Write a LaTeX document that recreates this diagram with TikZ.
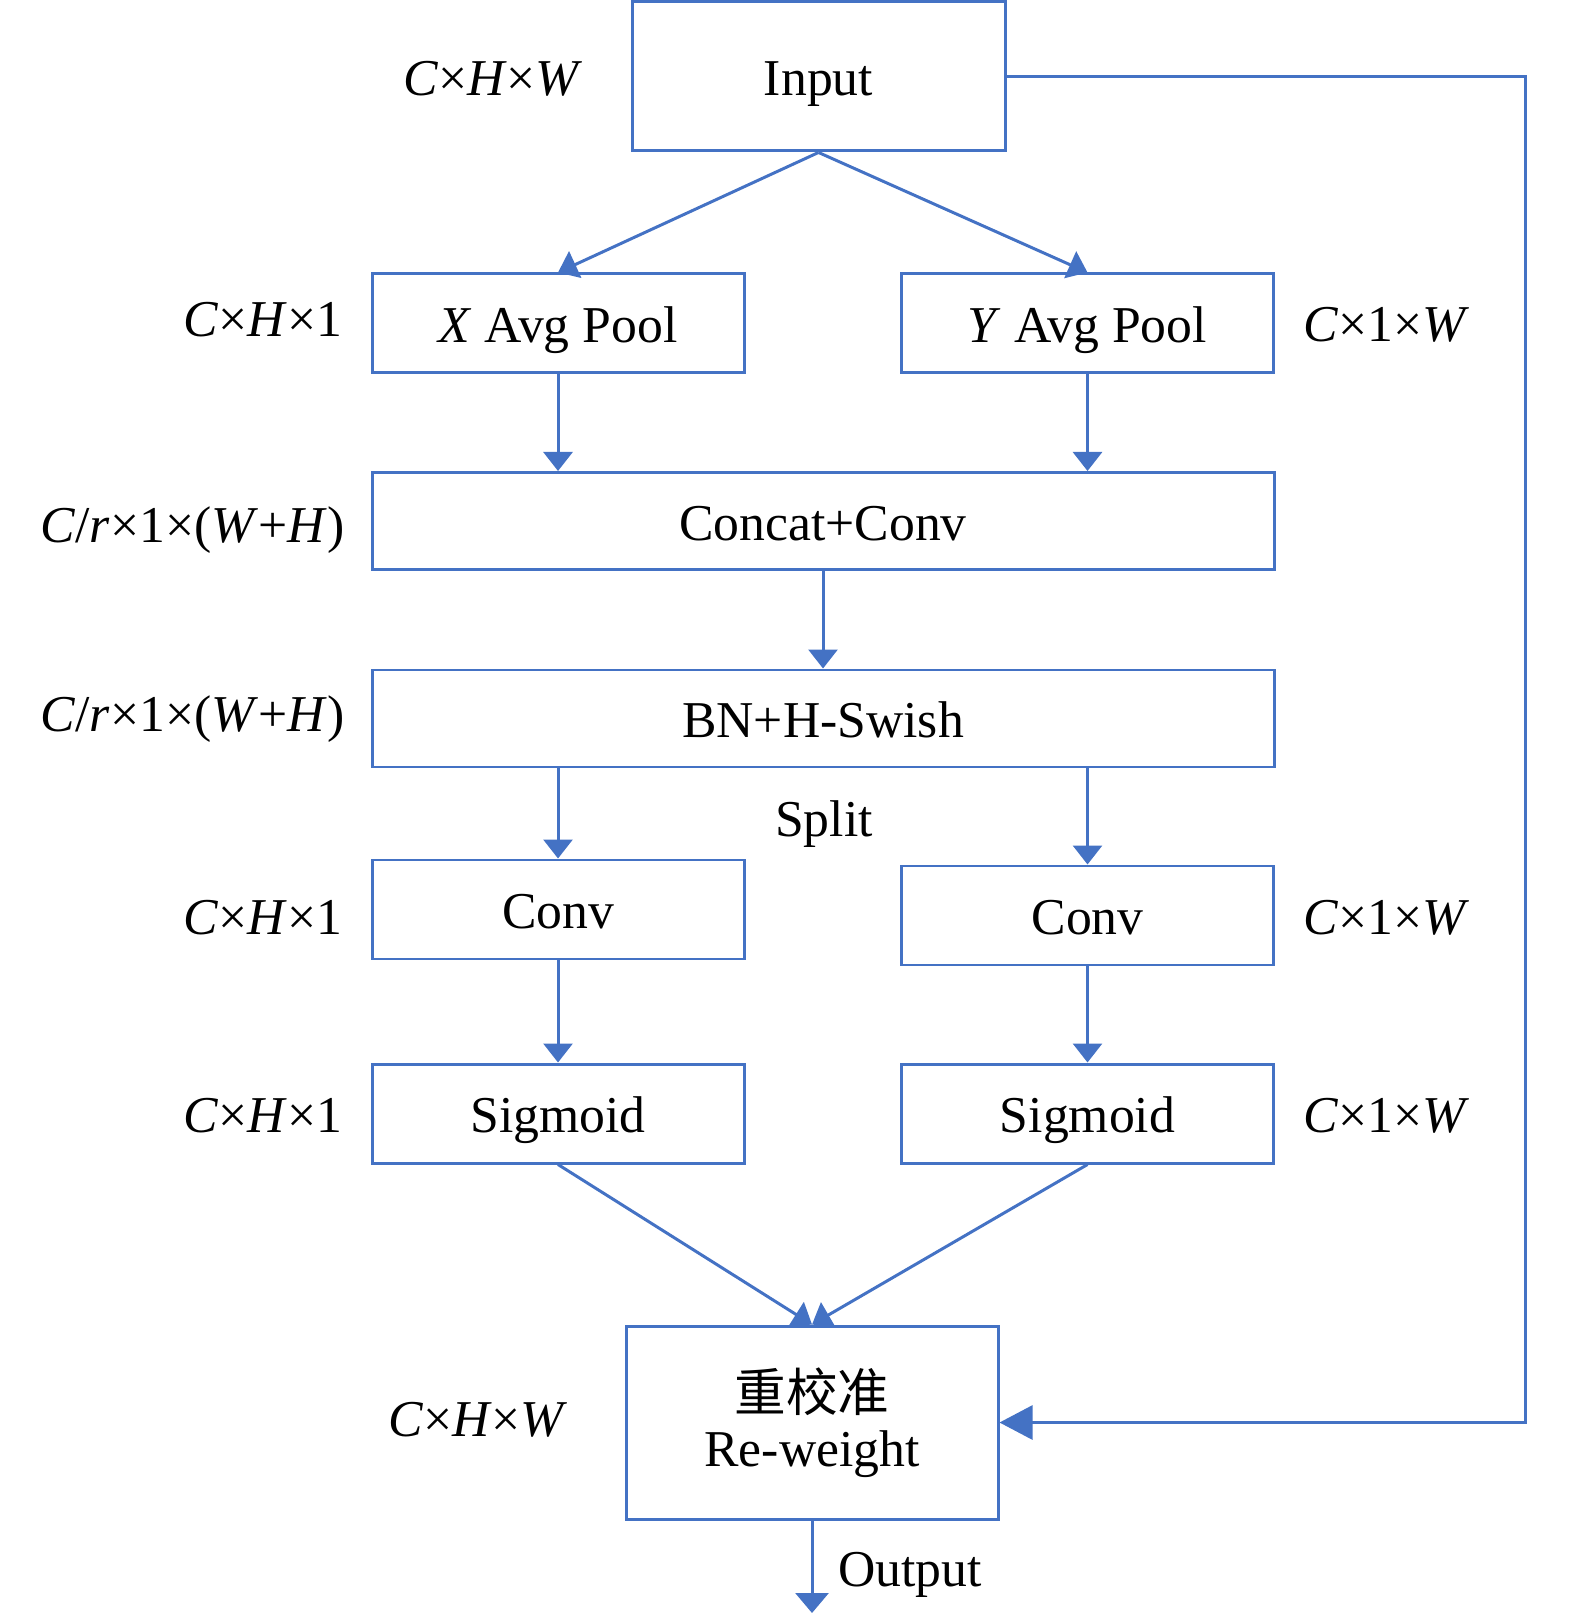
\documentclass[tikz,border=0pt]{standalone}
\usepackage{fontspec}
\setmainfont{Liberation Serif}
\newfontfamily\cjk{Noto Sans CJK SC}
\usepackage{tikz}
\usetikzlibrary{arrows.meta}
\definecolor{lineblue}{RGB}{68,114,196}

\begin{document}
\begin{tikzpicture}[
	box/.style={draw=lineblue,line width=0.85pt,inner sep=0pt,minimum width=3.72cm,minimum height=0.99cm,font=\fontsize{14.7}{17.6}\selectfont},
	blk/.style={box,text height=12.6pt,text depth=1.6pt},
	wideblk/.style={blk,minimum width=9.02cm,minimum height=0.97cm},
	dimlbl/.style={inner sep=0pt,font=\fontsize{14.7}{17.6}\selectfont},
	conn/.style={lineblue,line width=0.85pt,-{Triangle[length=0.19cm,width=0.29cm]}},
	bigconn/.style={lineblue,line width=0.85pt,-{Triangle[length=0.33cm,width=0.34cm]}}]
	\useasboundingbox (0,0) rectangle (15.75,-16.15);
	% boxes
	\node[blk,minimum width=3.73cm,minimum height=1.49cm] (input) at (8.185,-0.765) {Input};
	\node[blk] (xpool) at (5.58,-3.235) {\textit{X} Avg Pool};
	\node[blk] (ypool) at (10.875,-3.235) {\textit{Y} Avg Pool};
	\node[wideblk] (concat) at (8.23,-5.21) {Concat+Conv};
	\node[wideblk] (bn) at (8.23,-7.185) {BN+H-Swish};
	\node[blk] (convl) at (5.58,-9.095) {Conv};
	\node[blk] (convr) at (10.875,-9.155) {Conv};
	\node[blk] (sigl) at (5.58,-11.135) {Sigmoid};
	\node[blk] (sigr) at (10.875,-11.135) {Sigmoid};
	\node[box,minimum height=1.93cm,align=center,font=\fontsize{14.7}{15.5}\selectfont] (rew) at (8.12,-14.225) {{\cjk 重校准}\\Re-weight};
	% labels
	\node[dimlbl] (l0) at (4.93,-0.79) {\textit{C}×\textit{H}×\textit{W}};
	\node[dimlbl,anchor=east] (l1) at (3.43,-3.20) {\textit{C}×\textit{H}×1};
	\node[dimlbl,anchor=west] (r1) at (13.03,-3.25) {\textit{C}×1×\textit{W}};
	\node[dimlbl,anchor=east] (l2) at (3.45,-5.30) {\textit{C}/\textit{r}×1×(\textit{W}+\textit{H})};
	\node[dimlbl,anchor=east] (l3) at (3.45,-7.19) {\textit{C}/\textit{r}×1×(\textit{W}+\textit{H})};
	\node[dimlbl] (split) at (8.24,-8.24) {Split};
	\node[dimlbl,anchor=east] (l4) at (3.43,-9.18) {\textit{C}×\textit{H}×1};
	\node[dimlbl,anchor=west] (r4) at (13.03,-9.18) {\textit{C}×1×\textit{W}};
	\node[dimlbl,anchor=east] (l5) at (3.43,-11.16) {\textit{C}×\textit{H}×1};
	\node[dimlbl,anchor=west] (r5) at (13.03,-11.16) {\textit{C}×1×\textit{W}};
	\node[dimlbl] (l6) at (4.78,-14.20) {\textit{C}×\textit{H}×\textit{W}};
	\node[dimlbl] (outlbl) at (9.10,-15.75) {Output};
	% connectors
	\draw[conn] (input.south) -- (xpool.north);
	\draw[conn] (input.south) -- (ypool.north);
	\draw[conn] (xpool.south) -- (xpool.south |- concat.north);
	\draw[conn] (ypool.south) -- (ypool.south |- concat.north);
	\draw[conn] (concat.south) -- (bn.north);
	\draw[conn] (bn.south -| convl) -- (convl.north);
	\draw[conn] (bn.south -| convr) -- (convr.north);
	\draw[conn] (convl.south) -- (sigl.north);
	\draw[conn] (convr.south) -- (sigr.north);
	\draw[conn] (sigl.south) -- (rew.north);
	\draw[conn] (sigr.south) -- (rew.north);
	\coordinate (rt) at (15.25,-8);
	\draw[bigconn] (input.east) -| (rt) |- (rew.east);
	\coordinate (out) at (8.12,-16.13);
	\draw[conn,-{Triangle[length=0.2cm,width=0.33cm]}] (rew.south) -- (out);
\end{tikzpicture}
\end{document}
